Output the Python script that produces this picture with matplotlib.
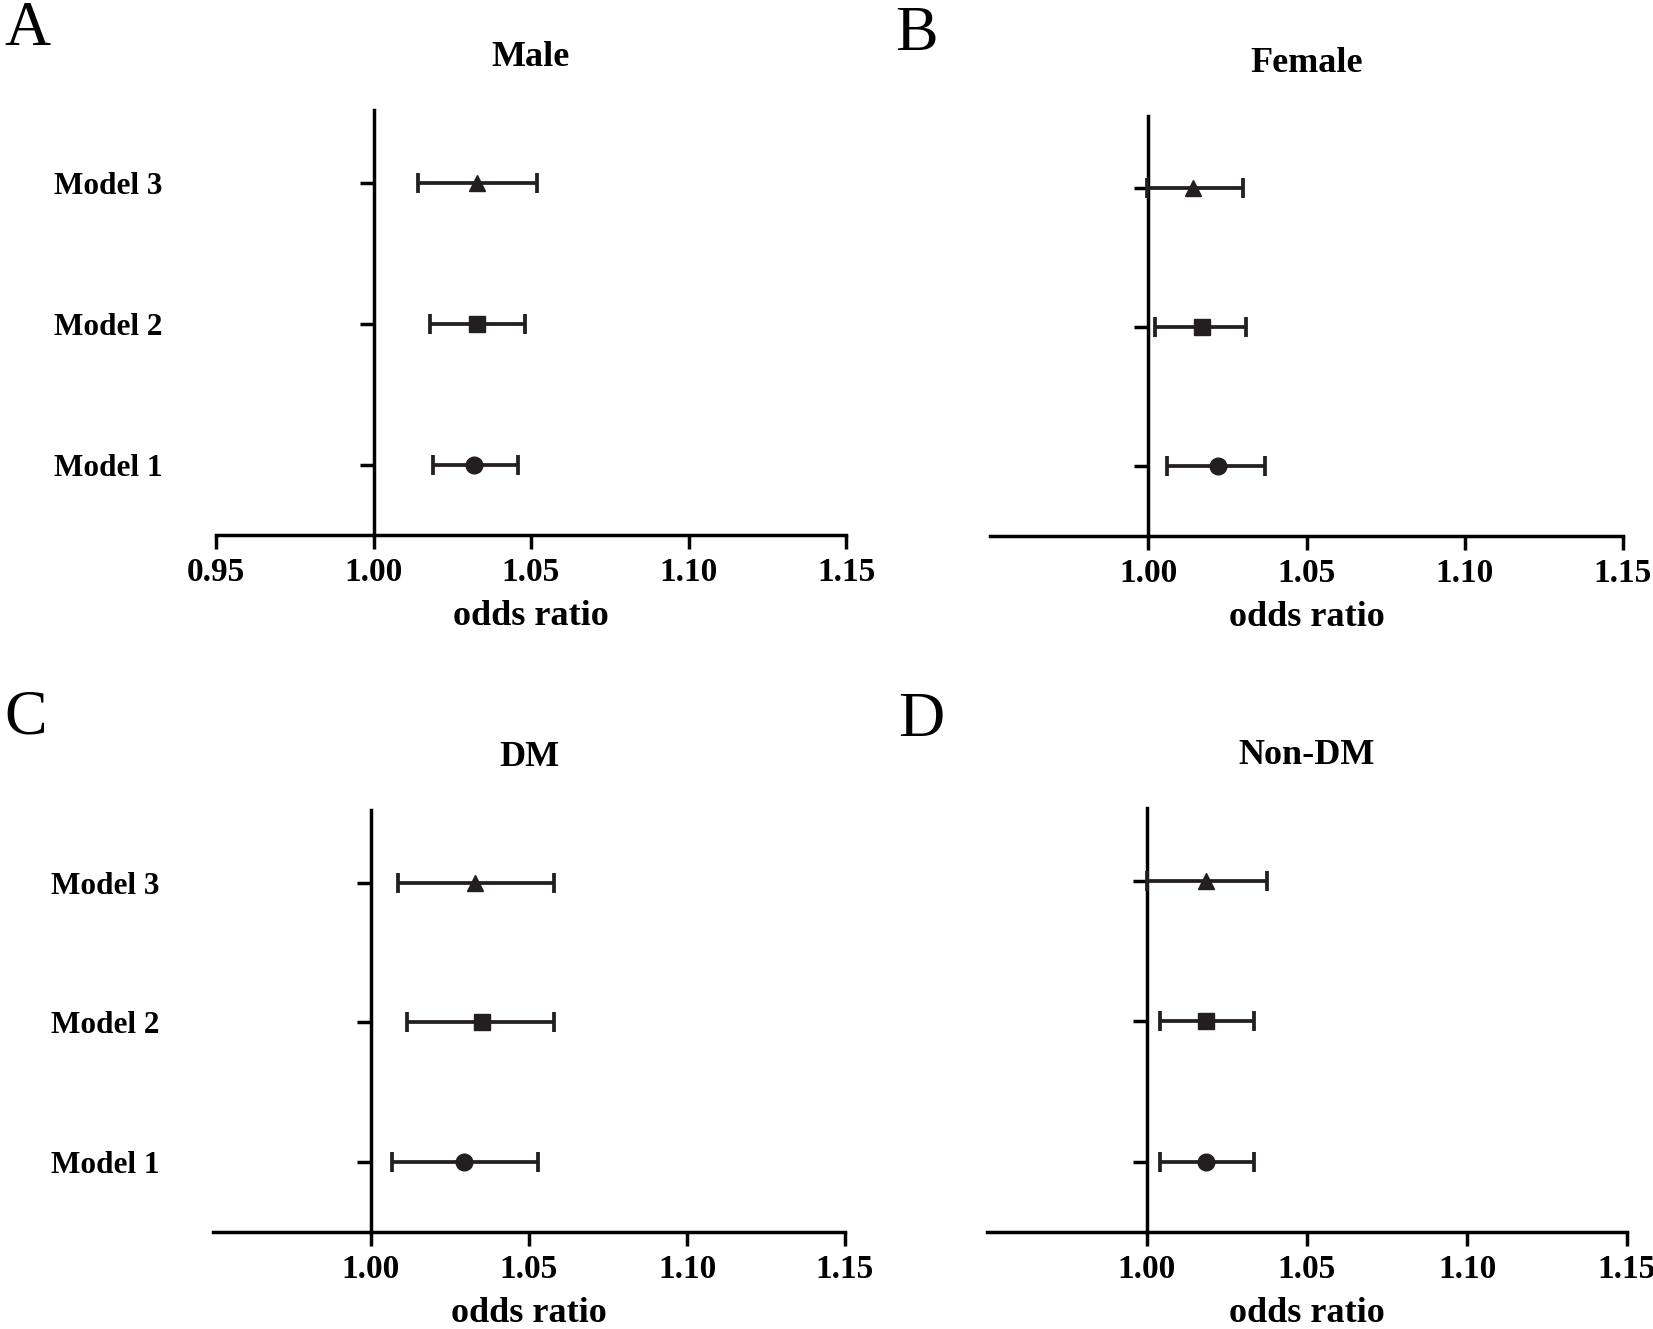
import matplotlib
matplotlib.use("Agg")
import matplotlib.pyplot as plt
import matplotlib.transforms as mtransforms
import numpy as np

plt.rcParams['font.family'] = ['Liberation Serif', 'DejaVu Serif']

# data (odds ratio with 95% CI)
models = ['Model 1', 'Model 2', 'Model 3']
rows = [1, 2, 3]
markers = ['o', 's', '^']

titles = ['Male', 'Female', 'DM', 'Non-DM']
letters = ['A', 'B', 'C', 'D']

male_or = [1.032, 1.033, 1.033]
male_lo = [1.019, 1.018, 1.014]
male_hi = [1.046, 1.048, 1.052]

female_or = [1.022, 1.017, 1.014]
female_lo = [1.006, 1.002, 0.9995]
female_hi = [1.037, 1.031, 1.030]

dm_or = [1.0295, 1.035, 1.033]
dm_lo = [1.0065, 1.0115, 1.0085]
dm_hi = [1.053, 1.058, 1.058]

nondm_or = [1.0185, 1.0185, 1.0185]
nondm_lo = [1.004, 1.004, 1.000]
nondm_hi = [1.0335, 1.0335, 1.0375]

all_or = [male_or, female_or, dm_or, nondm_or]
all_lo = [male_lo, female_lo, dm_lo, nondm_lo]
all_hi = [male_hi, female_hi, dm_hi, nondm_hi]

xticks_a = [0.95, 1.00, 1.05, 1.10, 1.15]
xticks_other = [1.00, 1.05, 1.10, 1.15]

W, H = 1653, 1329
fig = plt.figure(figsize=(W / 100, H / 100), dpi=100)

# axes boxes in pixels: left, right, top, bottom (from top of image)
boxes = [(216, 846, 110, 535), (990, 1623, 116, 536),
         (213, 845, 810, 1232), (987, 1627, 808, 1232)]
letter_pos = [(27, 30), (916, 35), (26, 719), (921, 721)]

ink = '#231f20'
lw = 2.7

for i in range(4):
    l, r, t, b = boxes[i]
    ax = fig.add_axes([l / W, 1 - b / H, (r - l) / W, (b - t) / H])
    orv = np.array(all_or[i])
    lo = np.array(all_lo[i])
    hi = np.array(all_hi[i])
    for j in range(3):
        ax.errorbar(orv[j], rows[j], xerr=[[orv[j] - lo[j]], [hi[j] - orv[j]]],
                    fmt=markers[j], color=ink, ms=12, elinewidth=lw,
                    capsize=7.5, capthick=lw, zorder=3)
    ax.set_xlim(0.95, 1.15)
    ax.set_ylim(0.5, 3.52)

    for s in ['top', 'right']:
        ax.spines[s].set_visible(False)
    ax.spines['left'].set_position(('data', 1.0))
    ax.spines['left'].set_linewidth(2.5)
    ax.spines['bottom'].set_linewidth(2.5)

    ticks = xticks_a if i == 0 else xticks_other
    ax.set_xticks(ticks)
    ax.set_xticklabels(['%.2f' % v for v in ticks], fontsize=24, fontweight='bold')
    ax.set_yticks(rows)
    ax.set_yticklabels([])
    ax.tick_params(axis='x', direction='out', length=10, width=2.5, pad=6)
    ax.tick_params(axis='y', direction='out', length=10, width=2.5)

    if i in (0, 2):
        trans = mtransforms.blended_transform_factory(ax.transAxes, ax.transData)
        for j in range(3):
            ax.text(-0.085, rows[j], models[j], transform=trans, ha='right',
                    va='center_baseline', fontsize=22.5, fontweight='bold')

    ax.annotate('odds ratio', xy=(0.5, 0), xycoords='axes fraction',
                xytext=(0, -59), textcoords='offset points', ha='center',
                va='center', fontsize=26, fontweight='bold')
    ax.annotate(titles[i], xy=(0.5, 1), xycoords='axes fraction',
                xytext=(0, 38), textcoords='offset points', ha='center',
                va='center', fontsize=26, fontweight='bold')

    lx, ly = letter_pos[i]
    fig.text(lx / W, 1 - ly / H, letters[i], ha='center', va='center',
             fontsize=46)

fig.savefig('out.png', dpi=100, facecolor='white')
